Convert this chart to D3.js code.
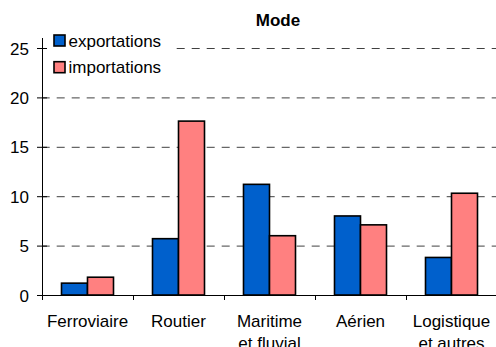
<!DOCTYPE html>
<html>
<head>
<meta charset="utf-8">
<script src="https://cdn.jsdelivr.net/npm/d3@7"></script>
<style>
  body { margin: 0; background: #fff; }
  text { font-family: "Liberation Sans", Arial, sans-serif; fill: #000; }
</style>
</head>
<body>
<script>
const categories = ["Ferroviaire", "Routier", "Maritime|et fluvial", "Aérien", "Logistique|et autres"];
const series = ["exportations", "importations"];
const exportations = [1.2, 5.7, 11.2, 8.0, 3.8];
const importations = [1.8, 17.6, 6.0, 7.1, 10.3];
const yTicks = [0, 5, 10, 15, 20, 25];
const colors = ["#0060CC", "#FF8080"];

const width = 496;
const height = 347;
const plotLeft = 42, plotRight = 497, plotTop = 48, plotBottom = 295;

const svg = d3.select("body")
  .append("svg")
  .attr("width", width)
  .attr("height", height);

const x = d3.scaleBand().domain(categories).range([plotLeft, plotRight]).padding(0);
const xInner = d3.scaleBand().domain(series).range([0, x.bandwidth()])
  .paddingInner(0).paddingOuter(0.75);
const y = d3.scaleLinear().domain([0, 25]).range([plotBottom, plotTop]);

// gridlines
svg.append("g")
  .selectAll("line")
  .data(yTicks.filter(d => d > 0))
  .enter()
  .append("line")
  .attr("x1", plotLeft)
  .attr("x2", width)
  .attr("y1", d => y(d) + 0.5)
  .attr("y2", d => y(d) + 0.5)
  .attr("stroke", "#404040")
  .attr("stroke-width", 1)
  .attr("stroke-dasharray", "8,7")
  .attr("stroke-dashoffset", 0.3);

// bars
const data = categories.map((c, i) => ({ cat: c, vals: [exportations[i], importations[i]] }));
const groups = svg.selectAll("g.grp")
  .data(data)
  .enter()
  .append("g")
  .attr("class", "grp")
  .attr("transform", d => `translate(${x(d.cat)},0)`);

groups.selectAll("rect")
  .data(d => d.vals.map((v, j) => ({ s: series[j], v: v, j: j })))
  .enter()
  .append("rect")
  .attr("x", d => xInner(d.s))
  .attr("y", d => y(d.v))
  .attr("width", xInner.bandwidth())
  .attr("height", d => y(0) - y(d.v))
  .attr("fill", d => colors[d.j])
  .attr("stroke", "#000")
  .attr("stroke-width", 1.6);

// y axis
const yAxis = d3.axisLeft(y).tickValues(yTicks).tickSizeInner(5).tickSizeOuter(0).tickPadding(8);
const gy = svg.append("g").attr("transform", `translate(${plotLeft},0)`).call(yAxis);
gy.select(".domain").attr("stroke", "#000").attr("d", `M0.5,${plotTop - 10}V${plotBottom}`);
gy.selectAll(".tick line").attr("x1", 5).attr("stroke", "#000");
gy.selectAll(".tick text")
  .style("font-size", "17px")
  .style("font-family", "Liberation Sans, Arial, sans-serif")
  .attr("dy", "0.36em");

// x axis
const xAxis = d3.axisBottom(x).tickSize(0).tickFormat("");
const gx = svg.append("g").attr("transform", `translate(0,${plotBottom})`).call(xAxis);
gx.select(".domain").attr("stroke", "#000").attr("d", `M${plotLeft},0.5H${width}`);
gx.selectAll(".tick").remove();
gx.selectAll(".sep")
  .data(categories)
  .enter()
  .append("line")
  .attr("x1", d => Math.round(x(d)) + 0.5)
  .attr("x2", d => Math.round(x(d)) + 0.5)
  .attr("y1", 0)
  .attr("y2", 5)
  .attr("stroke", "#000");

// category labels
const labels = svg.append("g")
  .selectAll("text")
  .data(categories)
  .enter()
  .append("text")
  .attr("x", d => x(d) + x.bandwidth() / 2)
  .attr("y", 327)
  .attr("text-anchor", "middle")
  .style("font-size", "17px");
labels.selectAll("tspan")
  .data(d => d.split("|"))
  .enter()
  .append("tspan")
  .attr("x", function () { return d3.select(this.parentNode).attr("x"); })
  .attr("dy", (d, i) => i === 0 ? 0 : 22)
  .text(d => d);

// title
svg.append("text")
  .attr("x", 278)
  .attr("y", 26)
  .attr("text-anchor", "middle")
  .style("font-size", "17px")
  .style("font-weight", "bold")
  .text("Mode");

// legend
const legend = svg.append("g");
legend.append("rect")
  .attr("x", 47)
  .attr("y", 30)
  .attr("width", 125)
  .attr("height", 48)
  .attr("fill", "#fff");
const li = legend.selectAll("g.li")
  .data(series)
  .enter()
  .append("g")
  .attr("class", "li")
  .attr("transform", (d, i) => `translate(54,${35 + i * 26.7})`);
li.append("rect")
  .attr("width", 11)
  .attr("height", 11)
  .attr("fill", (d, i) => colors[i])
  .attr("stroke", "#000")
  .attr("stroke-width", 1.6);
li.append("text")
  .attr("x", 14.5)
  .attr("y", 11.5)
  .style("font-size", "17px")
  .text(d => d);
</script>
</body>
</html>
